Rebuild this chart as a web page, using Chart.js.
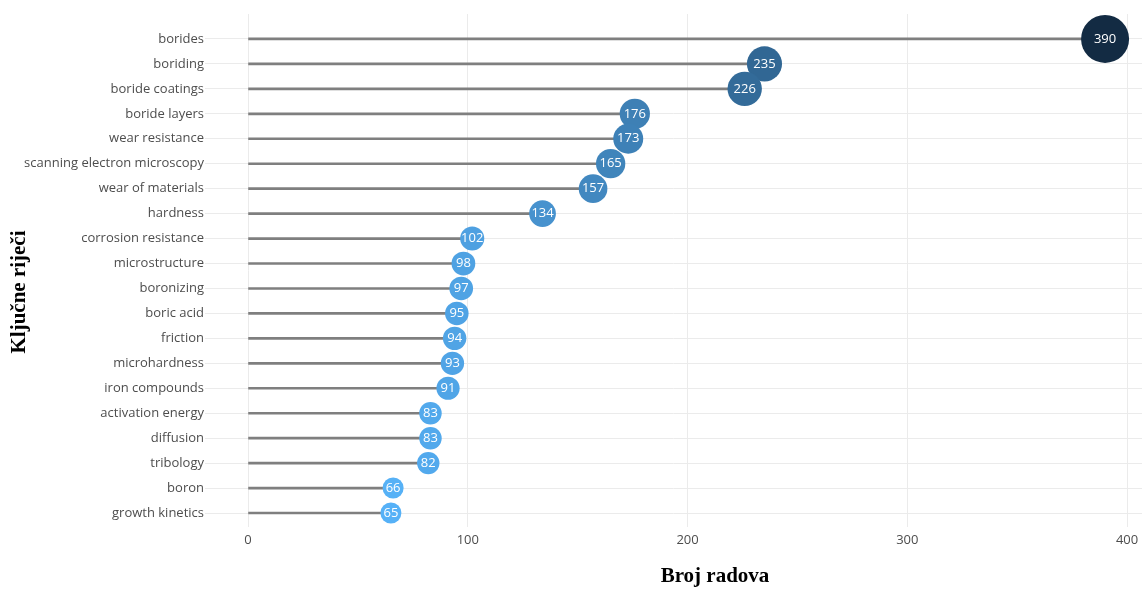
<!DOCTYPE html>
<html>
<head>
<meta charset="utf-8">
<script src="https://cdn.jsdelivr.net/npm/chart.js@4/dist/chart.umd.min.js"></script>
<style>
html,body{margin:0;padding:0;background:#fff;}
#wrap{width:1142px;height:589px;}
</style>
</head>
<body>
<div id="wrap"><canvas id="c" width="1142" height="589"></canvas></div>
<script>
const categories = ["borides","boriding","boride coatings","boride layers","wear resistance","scanning electron microscopy","wear of materials","hardness","corrosion resistance","microstructure","boronizing","boric acid","friction","microhardness","iron compounds","activation energy","diffusion","tribology","boron","growth kinetics"];
const counts = [390,235,226,176,173,165,157,134,102,98,97,95,94,93,91,83,83,82,66,65];
const xTicks = [0,100,200,300,400];
const xTitle = "Broj radova";
const yTitle = "Ključne riječi";

// colour helpers (Lab interpolation like ggplot gradient)
function hex2rgb(h){return [parseInt(h.slice(1,3),16),parseInt(h.slice(3,5),16),parseInt(h.slice(5,7),16)];}
function lin(c){c/=255;return c<=0.04045?c/12.92:Math.pow((c+0.055)/1.055,2.4);}
function unlin(c){c=c<=0.0031308?12.92*c:1.055*Math.pow(c,1/2.4)-0.055;return Math.max(0,Math.min(255,Math.round(c*255)));}
const Wn=[0.95047,1,1.08883];
function f(t){return t>0.008856?Math.cbrt(t):7.787*t+16/116;}
function finv(t){return t>0.206893?t*t*t:(t-16/116)/7.787;}
function rgb2lab(rgb){const [r,g,b]=rgb.map(lin);
 const X=(0.4124*r+0.3576*g+0.1805*b)/Wn[0],Y=(0.2126*r+0.7152*g+0.0722*b)/Wn[1],Z=(0.0193*r+0.1192*g+0.9505*b)/Wn[2];
 return [116*f(Y)-16,500*(f(X)-f(Y)),200*(f(Y)-f(Z))];}
function lab2rgb(lab){const fy=(lab[0]+16)/116,fx=fy+lab[1]/500,fz=fy-lab[2]/200;
 const X=finv(fx)*Wn[0],Y=finv(fy)*Wn[1],Z=finv(fz)*Wn[2];
 const r=3.2406*X-1.5372*Y-0.4986*Z,g=-0.9689*X+1.8758*Y+0.0415*Z,b=0.0557*X-0.2040*Y+1.0570*Z;
 return 'rgb('+unlin(r)+','+unlin(g)+','+unlin(b)+')';}
const darkLab=rgb2lab(hex2rgb('#132B43')), lightLab=rgb2lab(hex2rgb('#56B1F7'));
const vmin=Math.min(...counts), vmax=Math.max(...counts);
function colorFor(v){const t=(vmax-v)/(vmax-vmin);return lab2rgb(darkLab.map((d,i)=>d+(lightLab[i]-d)*t));}
function radiusFor(v){return 10.5+13.5*(v-vmin)/(vmax-vmin);}

const stemData = counts.map((v,i)=>({x:v,y:i}));
const dotData = counts.map((v,i)=>({x:v,y:i}));

const labelPlugin = {
  id:'labels',
  afterDatasetsDraw(chart){
    const ctx=chart.ctx;
    const meta=chart.getDatasetMeta(1);
    ctx.save();
    ctx.fillStyle='#ffffff';
    ctx.font='13px "Open Sans"';
    ctx.textAlign='center';ctx.textBaseline='middle';
    meta.data.forEach((el,i)=>{ctx.fillText(String(counts[i]),el.x,el.y);});
    ctx.restore();
  },
  afterDraw(chart){
    const ctx=chart.ctx;
    ctx.save();
    ctx.fillStyle='#000';
    ctx.font='bold 21px "Liberation Serif"';
    ctx.textAlign='center';ctx.textBaseline='middle';
    ctx.fillText(xTitle,715,577);
    ctx.translate(20,292);ctx.rotate(-Math.PI/2);
    ctx.fillText(yTitle,0,0);
    ctx.restore();
  }
};

new Chart(document.getElementById('c'),{
  type:'bar',
  data:{datasets:[
    {type:'bar',indexAxis:'y',data:stemData,backgroundColor:'#7F7F7F',barThickness:2,borderWidth:0,order:2},
    {type:'bubble',indexAxis:'x',data:dotData,order:1,clip:false,
     backgroundColor:c=>colorFor(c.raw.x),borderWidth:0,
     radius:c=>radiusFor(c.raw.x),hoverRadius:0}
  ]},
  options:{
    responsive:false,animation:false,indexAxis:'y',
    layout:{autoPadding:false,padding:{top:14,right:0,left:0,bottom:0}},
    plugins:{legend:{display:false},tooltip:{enabled:false}},
    events:[],
    scales:{
      x:{type:'linear',position:'bottom',min:-19.6,max:406.8,offset:false,
        afterBuildTicks:s=>{s.ticks=xTicks.map(v=>({value:v}));},
        afterFit:s=>{s.height=62;s.paddingLeft=0;s.paddingRight=0;s.paddingTop=0;s.paddingBottom=0;},
        grid:{color:'#EBEBEB',lineWidth:1,drawTicks:false,offset:false},
        border:{display:false},
        ticks:{padding:5,color:'#4D4D4D',font:{family:'"Open Sans"',size:13},maxRotation:0}},
      y:{type:'linear',reverse:true,min:-1,max:19.56,offset:false,
        afterBuildTicks:s=>{s.ticks=categories.map((_,i)=>({value:i}));},
        afterFit:s=>{s.width=205;s.paddingLeft=0;s.paddingRight=0;s.paddingTop=0;s.paddingBottom=0;},
        grid:{color:'#EBEBEB',lineWidth:1,drawTicks:false,offset:false},
        border:{display:false},
        ticks:{padding:1,color:'#4D4D4D',font:{family:'"Open Sans"',size:13},callback:v=>categories[v]}}
    }
  },
  plugins:[labelPlugin]
});
</script>
</body>
</html>
